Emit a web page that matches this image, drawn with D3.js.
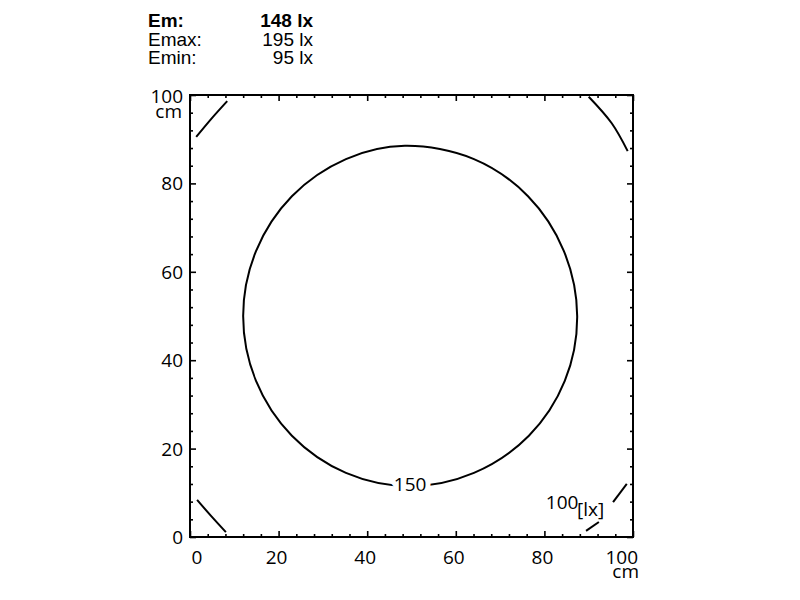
<!DOCTYPE html>
<html>
<head>
<meta charset="utf-8">
<script src="https://cdn.jsdelivr.net/npm/d3@7"></script>
<style>
  body { margin: 0; background: #fff; }
  svg { display: block; }
  .hdr { font-family: "Liberation Sans", Arial, sans-serif; font-size: 19px; fill: #000; }
  .lbl { font-family: "Open Sans", sans-serif; font-size: 19px; fill: #000; }
</style>
</head>
<body>
<svg width="800" height="600"></svg>
<script>
// summary values
const statNames = ["Em:", "Emax:", "Emin:"];
const statValues = ["148 lx", "195 lx", "95 lx"];

// axis ticks (cm)
const majorTicks = [0, 20, 40, 60, 80, 100];
const minorTicks = d3.range(0, 101, 4);

// isolux 150 lx contour, [x cm, y cm]
const contour150 = [
  [48.5, 88.5], [64.1, 85.5], [76.3, 77.1], [84.4, 64.7],
  [87.4, 50.0], [84.6, 35.3], [76.5, 22.9], [64.1, 14.5],
  [49.7, 11.5], [35.2, 14.5], [23.0, 22.9], [14.9, 35.3],
  [12.0, 50.0], [14.9, 64.7], [23.0, 77.1], [35.2, 85.5]
];
const label150 = [49.7, 12.0];

// isolux 100 lx pieces in the corners
const contour100 = [
  [[1.4, 90.5], [4.9, 94.7], [8.4, 98.6]],
  [[90.0, 99.6], [95.2, 93.6], [98.8, 87.3]],
  [[1.6, 8.4], [4.9, 4.6], [8.1, 1.1]],
  [[98.6, 12.0], [95.5, 7.9]],
  [[92.3, 3.4], [89.4, 1.4]]
];
const label100 = [84.0, 6.0];

const svg = d3.select("svg");

const x = d3.scaleLinear().domain([0, 100]).range([190, 633]);
const y = d3.scaleLinear().domain([0, 100]).range([537, 95]);

// header
const hdr = svg.append("g");
const rowY = [27, 46, 64];
statNames.forEach((s, i) => {
  hdr.append("text").attr("class", "hdr").attr("x", 148).attr("y", rowY[i])
    .style("font-weight", i == 0 ? "bold" : "normal").text(s);
  hdr.append("text").attr("class", "hdr").attr("x", 313).attr("y", rowY[i])
    .attr("text-anchor", "end")
    .style("font-weight", i == 0 ? "bold" : "normal").text(statValues[i]);
});

// ticks on all four sides, pointing inward
function addAxis(axis, tr, vals, size) {
  const g = svg.append("g").attr("transform", tr)
    .call(axis.tickValues(vals).tickSize(size).tickFormat(""));
  g.select(".domain").remove();
  g.selectAll("line").attr("stroke", "#000").attr("stroke-width", 1.6);
}
const minorVals = minorTicks.filter(v => v % 20 != 0);
addAxis(d3.axisBottom(x), `translate(0,${y(0)})`, minorVals, -3);
addAxis(d3.axisBottom(x), `translate(0,${y(0)})`, majorTicks, -6);
addAxis(d3.axisTop(x), `translate(0,${y(100)})`, minorVals, -3);
addAxis(d3.axisTop(x), `translate(0,${y(100)})`, majorTicks, -6);
addAxis(d3.axisLeft(y), `translate(${x(0)},0)`, minorVals, -3);
addAxis(d3.axisLeft(y), `translate(${x(0)},0)`, majorTicks, -6);
addAxis(d3.axisRight(y), `translate(${x(100)},0)`, minorVals, -3);
addAxis(d3.axisRight(y), `translate(${x(100)},0)`, majorTicks, -6);

// frame
svg.append("rect")
  .attr("x", x(0)).attr("y", y(100))
  .attr("width", x(100) - x(0)).attr("height", y(0) - y(100))
  .attr("fill", "none").attr("stroke", "#000").attr("stroke-width", 2);

// x labels
majorTicks.forEach(v => {
  let t = svg.append("text").attr("class", "lbl").attr("y", y(0) + 27).text(v);
  if (v == 0) t.attr("x", x(v) + 7).attr("text-anchor", "middle");
  else if (v == 100) t.attr("x", x(v) + 5).attr("text-anchor", "end");
  else t.attr("x", x(v) - 2).attr("text-anchor", "middle");
});
svg.append("text").attr("class", "lbl").attr("x", x(100) + 6).attr("y", y(0) + 41)
  .attr("text-anchor", "end").text("cm");

// y labels
majorTicks.forEach(v => {
  svg.append("text").attr("class", "lbl")
    .attr("x", x(0) - 7).attr("y", y(v) + (v == 100 ? 8 : 7))
    .attr("text-anchor", "end").text(v);
});
svg.append("text").attr("class", "lbl").attr("x", x(0) - 8).attr("y", y(100) + 23)
  .attr("text-anchor", "end").text("cm");

// contours
const line = d3.line().x(d => x(d[0])).y(d => y(d[1]));
svg.append("path")
  .attr("d", line.curve(d3.curveCatmullRomClosed)(contour150))
  .attr("fill", "none").attr("stroke", "#000").attr("stroke-width", 2);

const openLine = d3.line().x(d => x(d[0])).y(d => y(d[1])).curve(d3.curveCatmullRom);
contour100.forEach(c => {
  svg.append("path").attr("d", openLine(c))
    .attr("fill", "none").attr("stroke", "#000").attr("stroke-width", 2);
});

// contour labels
svg.append("text").attr("class", "lbl")
  .attr("x", x(label150[0])).attr("y", y(label150[1]) + 7)
  .attr("text-anchor", "middle")
  .attr("stroke", "#fff").attr("stroke-width", 10).style("paint-order", "stroke")
  .text("150");

svg.append("text").attr("class", "lbl")
  .attr("x", x(label100[0])).attr("y", y(label100[1]) - 1)
  .attr("text-anchor", "middle").text("100");
svg.append("text").attr("class", "lbl")
  .attr("x", x(label100[0]) + 15).attr("y", y(label100[1]) + 6)
  .attr("text-anchor", "start").text("[lx]");
</script>
</body>
</html>
